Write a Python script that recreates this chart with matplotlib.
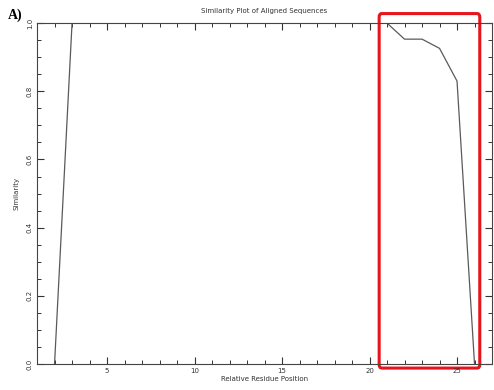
import matplotlib
matplotlib.use("Agg")
import matplotlib.pyplot as plt
from matplotlib.patches import FancyBboxPatch
from matplotlib.ticker import MultipleLocator

# residue positions and similarity values
positions = [2, 3, 4, 5, 6, 7, 8, 9, 10, 11, 12, 13, 14, 15, 16, 17, 18, 19, 20,
             21, 22, 23, 24, 25, 26]
similarity = [0.0, 1.0, 1.0, 1.0, 1.0, 1.0, 1.0, 1.0, 1.0, 1.0, 1.0, 1.0, 1.0,
              1.0, 1.0, 1.0, 1.0, 1.0, 1.0, 1.0, 0.953, 0.953, 0.926, 0.83, 0.0]
x_ticks = [5, 10, 15, 20, 25]
y_ticks = [0.0, 0.2, 0.4, 0.6, 0.8, 1.0]

fig = plt.figure(figsize=(4.94, 3.9), dpi=100)
ax = fig.add_axes([0.075, 0.0667, 0.921, 0.874])

ax.plot(positions, similarity, color="#5a5a5a", lw=0.9)
ax.set_xlim(1, 27)
ax.set_ylim(0, 1)

ax.set_xticks(x_ticks)
ax.set_yticks(y_ticks)
ax.set_yticklabels(["%.1f" % v for v in y_ticks], rotation=90, va="center")
ax.xaxis.set_minor_locator(MultipleLocator(1))
ax.yaxis.set_minor_locator(MultipleLocator(0.05))
ax.tick_params(which="both", direction="in", top=True, right=True,
               labelsize=5, color="#333333", labelcolor="#333333", pad=3)
ax.tick_params(which="major", length=5, width=0.8)
ax.tick_params(which="minor", length=3, width=0.7)
for s in ax.spines.values():
    s.set_color("#444444")
    s.set_linewidth(0.8)

ax.set_title("Similarity Plot of Aligned Sequences", fontsize=5, color="#333333", pad=7)
ax.set_xlabel("Relative Residue Position", fontsize=5, color="#333333", labelpad=1)
ax.set_ylabel("Similarity", fontsize=5, color="#333333", labelpad=5)

fig.text(0.016, 0.962, "A)", fontsize=10, family="Liberation Serif",
         fontweight="bold", va="center")

# red highlight box around the tail of the curve
box = FancyBboxPatch((20.55, -0.012), 5.75, 1.04,
                     boxstyle="round,pad=0,rounding_size=0.15",
                     fill=False, edgecolor="#e8141b", lw=2.2, clip_on=False,
                     mutation_aspect=0.07)
ax.add_patch(box)

fig.savefig("out.png", dpi=100)
